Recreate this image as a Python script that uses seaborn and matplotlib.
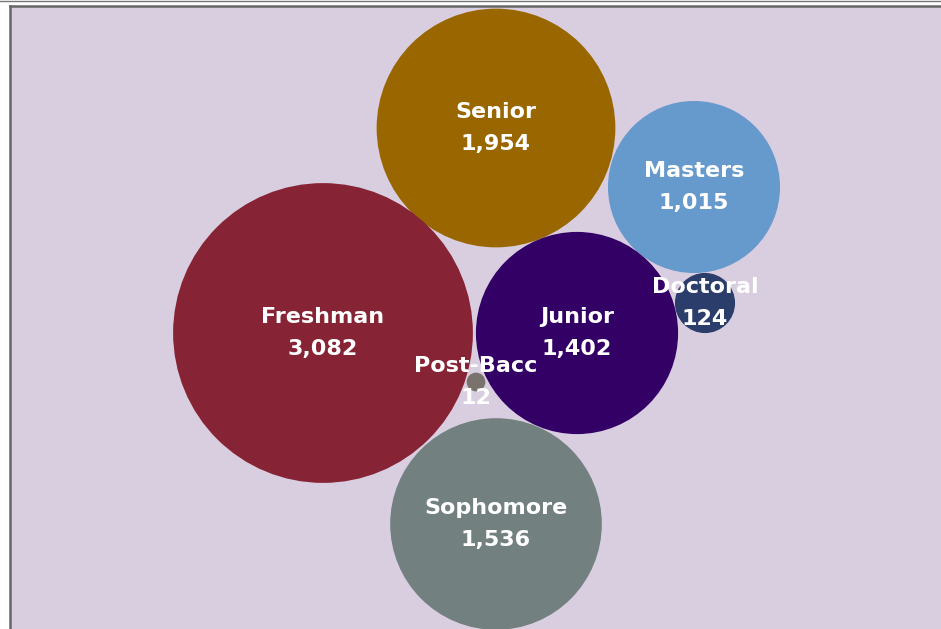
import pandas as pd
import matplotlib.pyplot as plt
import seaborn as sns
from matplotlib.patches import Rectangle
from matplotlib.lines import Line2D

# Enrollment by class level (bubble area ~ headcount)
levels = ["Senior", "Masters", "Doctoral", "Freshman", "Junior", "Post-Bacc", "Sophomore"]
counts = [1954, 1015, 124, 3082, 1402, 12, 1536]
# packed-bubble layout positions
bubble_x = [496, 694, 705, 323, 577, 476, 496]
bubble_y = [128, 187, 303, 333, 333, 382, 524]
colors = ["#996600", "#6699cc", "#2b3d6b", "#862334", "#330066", "#7a726c", "#738080"]

df = pd.DataFrame({"level": levels, "count": counts, "x": bubble_x, "y": bubble_y})

fig = plt.figure(figsize=(9.41, 6.29), dpi=100)
fig.patch.set_facecolor("white")

# lavender panel with gray top/left border
fig.add_artist(Rectangle((10 / 941, 0), 1, (629 - 6) / 629, transform=fig.transFigure,
                         facecolor="#d9cde0", edgecolor="none", zorder=0))
fig.add_artist(Line2D([10 / 941, 1], [1 - 6 / 629, 1 - 6 / 629], transform=fig.transFigure,
                      color="#666666", linewidth=1.8))
fig.add_artist(Line2D([10 / 941, 10 / 941], [0, 1 - 6 / 629], transform=fig.transFigure,
                      color="#666666", linewidth=1.8))
fig.add_artist(Line2D([0, 1], [1 - 0.5 / 629, 1 - 0.5 / 629], transform=fig.transFigure,
                      color="#777777", linewidth=1.0))

ax = fig.add_axes([0, 0, 1, 1])
ax.set_facecolor("none")
ax.patch.set_alpha(0)

# marker area proportional to count: radius = 2.7*sqrt(v) px
k = (2 * 2.7 * 0.72) ** 2
sns.scatterplot(data=df, x="x", y="y", hue="level", palette=dict(zip(levels, colors)),
                size="count", sizes=(k * min(counts), k * max(counts)),
                size_norm=(min(counts), max(counts)), linewidth=0, alpha=1,
                legend=False, ax=ax, zorder=2)

for _, r in df.iterrows():
    ax.text(r["x"], r["y"], f"{r['level']}\n{r['count']:,}", ha="center", va="center",
            color="white", fontsize=16, fontweight="bold", linespacing=1.8,
            zorder=5)

ax.set_xlim(0, 941)
ax.set_ylim(629, 0)
ax.axis("off")

fig.savefig("out.png", dpi=100)
